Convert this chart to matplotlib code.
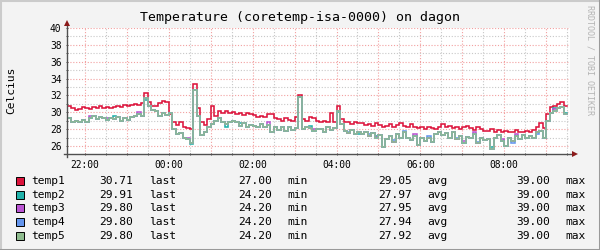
import numpy as np
import matplotlib
matplotlib.use("Agg")
import matplotlib.pyplot as plt
from matplotlib.patches import Rectangle
from matplotlib.lines import Line2D
from matplotlib.ticker import FixedLocator

# ---------------- data ----------------
title = "Temperature (coretemp-isa-0000) on dagon"
ylabel = "Celcius"
series_names = ["temp1", "temp2", "temp3", "temp4", "temp5"]
series_colors = ["#DC143C", "#20B2AA", "#BA55D3", "#6495ED", "#8FBC8F"]

# 5-minute samples, first one starting 21:35 (hours counted from 21:00)
start_hour = 21 + 35 / 60 - 21
step_hours = 5 / 60

temp1 = [30.7, 30.5, 30.3, 30.4, 30.6, 30.5, 30.4, 30.6, 30.5, 30.7, 30.5, 30.6,
         30.5, 30.6, 30.8, 30.6, 30.9, 30.7, 30.9, 31.0, 30.9, 31.1, 32.3, 31.2,
         30.8, 30.7, 31.1, 31.3, 31.2, 29.8, 28.8, 28.5, 28.9, 28.2, 28.1, 28.0,
         33.3, 30.5, 28.8, 28.5, 29.2, 30.8, 29.5, 30.1, 29.9, 30.2, 29.9, 30.0,
         29.8, 29.9, 29.7, 29.9, 29.8, 29.7, 29.4, 29.5, 29.4, 29.8, 29.8, 29.3,
         29.2, 29.0, 29.3, 29.1, 29.0, 29.4, 32.0, 29.2, 29.0, 29.4, 29.3, 29.0,
         28.9, 29.0, 28.8, 29.9, 28.9, 30.7, 29.2, 28.8, 28.9, 28.6, 28.8, 28.7,
         28.7, 28.5, 28.6, 28.4, 28.7, 28.5, 28.3, 28.4, 28.6, 28.3, 28.5, 28.7,
         28.4, 28.3, 28.6, 28.2, 28.1, 28.3, 28.0, 28.2, 28.1, 28.0, 28.3, 28.6,
         28.2, 28.4, 28.1, 28.3, 28.0, 28.2, 28.4, 28.1, 27.9, 28.3, 28.0, 27.8,
         27.8, 28.0, 27.7, 27.9, 27.6, 27.8, 27.7, 27.6, 27.9, 27.7, 27.6, 27.8,
         27.7, 27.9, 28.2, 28.7, 28.1, 29.8, 30.6, 30.8, 31.0, 31.2, 30.8]

temp2 = [29.3, 28.9, 29.0, 28.8, 29.1, 28.9, 29.3, 29.5, 29.2, 29.4, 29.3, 29.1,
         29.3, 29.5, 29.4, 29.0, 29.3, 29.1, 29.4, 29.6, 29.8, 29.5, 31.4, 30.8,
         30.3, 30.1, 29.6, 29.9, 29.7, 29.9, 28.0, 27.4, 27.5, 27.0, 26.8, 26.2,
         32.7, 29.5, 27.3, 27.6, 28.3, 28.6, 29.0, 29.3, 28.8, 28.3, 28.8, 29.0,
         28.8, 28.7, 28.7, 28.3, 28.5, 28.4, 28.2, 28.6, 28.3, 28.5, 27.7, 28.2,
         27.9, 28.2, 27.8, 28.3, 27.9, 28.1, 31.8, 28.0, 28.3, 28.4, 27.8, 28.0,
         28.0, 27.7, 28.2, 27.9, 28.1, 30.0, 28.6, 27.8, 27.5, 27.9, 27.4, 27.4,
         27.4, 27.6, 27.2, 27.5, 27.2, 27.3, 25.9, 26.8, 27.2, 26.5, 27.4, 27.0,
         27.6, 27.0, 26.7, 27.2, 26.1, 26.9, 26.6, 27.0, 26.5, 27.4, 27.7, 27.3,
         27.5, 27.0, 27.6, 26.8, 27.2, 26.4, 27.1, 26.9, 27.4, 26.3, 27.0, 26.7,
         26.8, 25.9, 26.9, 27.3, 26.6, 26.0, 27.0, 26.6, 27.2, 26.8, 27.3, 26.9,
         27.2, 26.9, 27.6, 27.8, 27.0, 29.0, 29.9, 30.5, 30.5, 30.6, 29.9]

temp3 = [29.3, 28.9, 29.0, 28.8, 29.1, 28.9, 29.6, 29.5, 29.2, 29.4, 29.3, 29.3,
         29.3, 29.2, 29.4, 29.0, 29.3, 29.1, 29.4, 29.6, 30.0, 29.5, 31.7, 30.8,
         30.3, 30.1, 29.6, 29.9, 29.7, 29.9, 28.0, 27.4, 27.5, 27.0, 27.0, 26.4,
         32.7, 29.5, 27.3, 27.6, 28.3, 28.6, 29.0, 29.3, 28.8, 28.6, 28.8, 29.0,
         28.8, 28.4, 28.7, 28.3, 28.5, 28.4, 28.2, 28.6, 28.3, 28.8, 27.7, 28.2,
         27.9, 28.2, 27.8, 28.3, 27.9, 28.1, 31.8, 28.0, 28.3, 28.1, 28.0, 28.0,
         28.0, 27.7, 28.2, 27.9, 28.1, 30.2, 28.6, 27.8, 27.5, 27.9, 27.4, 27.7,
         27.4, 27.6, 27.2, 27.5, 27.1, 27.3, 25.9, 26.8, 27.2, 26.5, 27.4, 27.0,
         27.6, 27.0, 26.7, 27.4, 26.1, 26.9, 26.6, 27.0, 26.5, 27.4, 27.7, 27.3,
         27.5, 27.0, 27.6, 26.8, 27.2, 26.6, 27.1, 26.9, 27.6, 26.3, 27.0, 26.7,
         26.8, 25.7, 26.9, 27.3, 26.8, 26.0, 27.0, 26.6, 27.4, 26.8, 27.3, 26.9,
         27.2, 26.9, 27.6, 27.8, 27.0, 29.0, 29.9, 30.4, 30.5, 30.6, 29.8]

temp4 = [29.3, 28.9, 29.0, 28.8, 29.1, 28.9, 29.3, 29.5, 29.2, 29.4, 29.3, 29.1,
         29.3, 29.2, 29.4, 29.0, 29.3, 29.1, 29.4, 29.6, 29.8, 29.5, 31.7, 30.8,
         30.3, 30.1, 29.6, 29.9, 29.7, 29.9, 28.0, 27.4, 27.5, 27.0, 26.8, 26.4,
         32.7, 29.5, 27.3, 27.6, 28.3, 28.6, 29.0, 29.3, 28.8, 28.6, 28.8, 29.0,
         28.8, 28.4, 28.7, 28.3, 28.5, 28.4, 28.2, 28.6, 28.3, 28.5, 27.7, 28.2,
         27.9, 28.2, 27.8, 28.3, 27.9, 28.1, 31.8, 28.0, 28.3, 28.1, 27.8, 28.0,
         28.0, 27.7, 28.2, 27.9, 28.1, 30.2, 28.6, 27.8, 27.7, 27.9, 27.4, 27.7,
         27.4, 27.6, 27.4, 27.5, 26.9, 27.3, 25.9, 26.8, 27.2, 26.7, 27.4, 27.0,
         27.8, 27.0, 26.7, 27.2, 26.1, 26.9, 26.6, 27.2, 26.5, 27.4, 27.7, 27.3,
         27.5, 27.0, 27.6, 27.0, 27.2, 26.4, 27.1, 26.9, 27.4, 26.5, 27.0, 26.7,
         26.8, 25.7, 26.9, 27.3, 26.6, 26.0, 27.0, 26.4, 27.2, 26.8, 27.3, 26.9,
         27.2, 26.9, 27.4, 27.8, 27.0, 29.0, 29.9, 30.2, 30.5, 30.6, 29.8]

temp5 = [29.3, 28.9, 29.0, 28.8, 29.1, 28.9, 29.3, 29.5, 29.2, 29.4, 29.3, 29.1,
         29.3, 29.2, 29.4, 29.0, 29.3, 29.1, 29.4, 29.6, 29.8, 29.5, 31.7, 30.8,
         30.3, 30.1, 29.6, 29.9, 29.7, 29.9, 28.0, 27.4, 27.5, 27.0, 26.8, 26.4,
         32.7, 29.5, 27.3, 27.6, 28.3, 28.6, 29.0, 29.3, 28.8, 28.6, 28.8, 29.0,
         28.8, 28.4, 28.7, 28.3, 28.5, 28.4, 28.2, 28.6, 28.3, 28.5, 27.7, 28.2,
         27.9, 28.2, 27.8, 28.3, 27.9, 28.1, 31.8, 28.0, 28.3, 28.1, 27.8, 28.0,
         28.0, 27.7, 28.2, 27.9, 28.1, 30.2, 28.6, 27.8, 27.5, 27.9, 27.4, 27.7,
         27.4, 27.6, 27.2, 27.5, 26.9, 27.3, 25.9, 26.8, 27.2, 26.5, 27.4, 27.0,
         27.6, 27.0, 26.7, 27.2, 26.1, 26.9, 26.6, 27.0, 26.5, 27.4, 27.7, 27.3,
         27.5, 27.0, 27.6, 26.8, 27.2, 26.4, 27.1, 26.9, 27.4, 26.3, 27.0, 26.7,
         26.8, 25.7, 26.9, 27.3, 26.6, 26.0, 27.0, 26.6, 27.2, 26.8, 27.3, 26.9,
         27.2, 26.9, 27.6, 27.8, 27.0, 29.0, 29.9, 30.2, 30.5, 30.6, 29.8]

legend_last = ["30.71", "29.91", "29.80", "29.80", "29.80"]
legend_min = ["27.00", "24.20", "24.20", "24.20", "24.20"]
legend_avg = ["29.05", "27.97", "27.95", "27.94", "27.92"]
legend_max = ["39.00", "39.00", "39.00", "39.00", "39.00"]

x_major_pos = [1, 2, 3, 4, 5, 6, 7, 8, 9, 10, 11, 12]
x_major_labels = ["22:00", "", "00:00", "", "02:00", "", "04:00", "", "06:00", "", "08:00", ""]
x_minor_pos = [1.5, 2.5, 3.5, 4.5, 5.5, 6.5, 7.5, 8.5, 9.5, 10.5, 11.5, 12.5]
y_major = [26, 28, 30, 32, 34, 36, 38, 40]
y_minor = [27, 29, 31, 33, 35, 37, 39]
x_range = (0.57, 12.57)
y_range = (25, 40)

# ---------------- drawing ----------------
MONO = "DejaVu Sans Mono"
W, H = 600, 250
fig = plt.figure(figsize=(6, 2.5), dpi=100, facecolor="#F3F3F3")

def fx(px):
    return px / W

def fy(py):
    return 1 - py / H

ax = fig.add_axes([fx(67), fy(154.4), fx(570) - fx(67), fy(28) - fy(154.4)])
ax.set_facecolor("white")
ax.set_xlim(*x_range)
ax.set_ylim(*y_range)
for s in ax.spines.values():
    s.set_visible(False)

ax.xaxis.set_major_locator(FixedLocator(x_major_pos))
ax.xaxis.set_minor_locator(FixedLocator(x_minor_pos))
ax.set_xticklabels(x_major_labels)
ax.yaxis.set_major_locator(FixedLocator(y_major))
ax.yaxis.set_minor_locator(FixedLocator(y_minor))
ax.set_yticklabels([str(v) for v in y_major])

ax.grid(which="major", color="#F2A0A0", linestyle=(0, (1, 1.6)), linewidth=0.8)
ax.grid(which="minor", color="#C8C8C8", linestyle=(0, (1, 1.6)), linewidth=0.8)
ax.set_axisbelow(True)

ax.tick_params(which="both", length=2, width=0.7, color="#505050",
               direction="inout", labelsize=6.9, pad=3)
for lab in ax.get_xticklabels() + ax.get_yticklabels():
    lab.set_fontfamily(MONO)

series = [temp1, temp2, temp3, temp4, temp5]
for vals, col in zip(series, series_colors):
    n = len(vals)
    edges = start_hour + np.arange(n + 1) * step_hours
    yy = list(vals) + [vals[-1]]
    ax.step(edges, yy, where="post", color=col, linewidth=1.15, solid_joinstyle="miter")

# axis lines with arrows
ax.plot([-0.006, 1.006], [0, 0], transform=ax.transAxes, clip_on=False,
        color="#505050", linewidth=1.0, zorder=5)
ax.plot([0, 0], [-0.02, 1.03], transform=ax.transAxes, clip_on=False,
        color="#505050", linewidth=1.0, zorder=5)
ax.plot([1.010], [0], marker=">", markersize=5, color="#8B1A1A",
        transform=ax.transAxes, clip_on=False, zorder=6, markeredgewidth=0)
ax.plot([0], [1.038], marker="^", markersize=5, color="#8B1A1A",
        transform=ax.transAxes, clip_on=False, zorder=6, markeredgewidth=0)

# texts
fig.text(0.5, fy(18), title, ha="center", va="center", fontsize=9.5, family=MONO)
fig.text(fx(11), fy(90), ylabel, rotation=90, ha="center", va="center",
         fontsize=8.1, family=MONO)
fig.text(fx(590), fy(60), "RRDTOOL / TOBI OETIKER", rotation=-90, ha="center",
         va="center", fontsize=6, family=MONO, color="#B4B4B4")

# legend
for k, name in enumerate(series_names):
    yc = 180.7 + k * 13.85
    fig.add_artist(Rectangle((fx(15.5), fy(yc + 4)), fx(8), 8 / H,
                             transform=fig.transFigure, facecolor=series_colors[k],
                             edgecolor="black", linewidth=0.7))
    cols = [(31, name), (99, legend_last[k]), (149, "last"), (238, legend_min[k]),
            (287, "min"), (378, legend_avg[k]), (427, "avg"), (516, legend_max[k]),
            (565, "max")]
    for px, txt in cols:
        fig.text(fx(px), fy(yc), txt, ha="left", va="center", fontsize=8.1, family=MONO)

# 3D border
fig.add_artist(Line2D([0, 0, 1], [0, 1, 1], transform=fig.transFigure,
                      color="#CBCBCB", linewidth=2.2))
fig.add_artist(Line2D([0, 1, 1], [0, 0, 1], transform=fig.transFigure,
                      color="#999999", linewidth=2.2))

fig.savefig("out.png", dpi=100, facecolor=fig.get_facecolor())
